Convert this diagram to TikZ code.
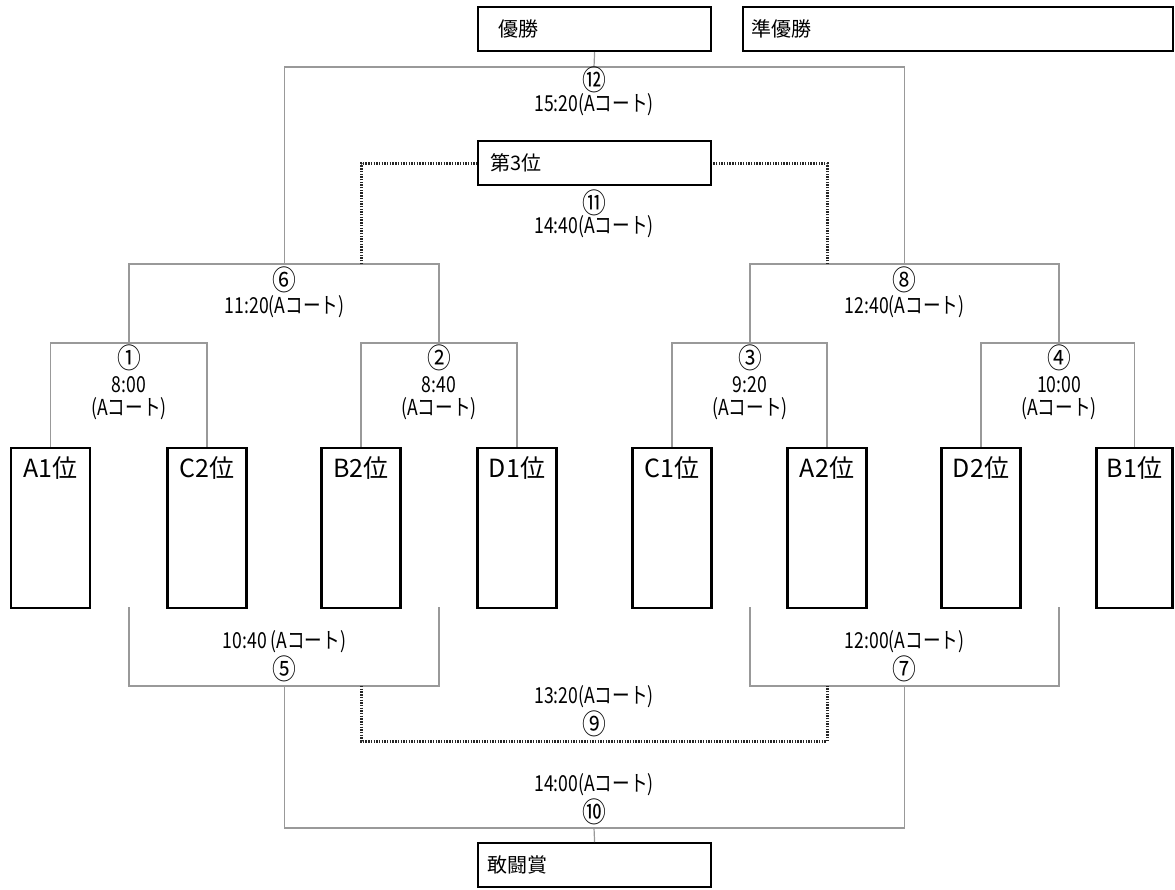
\documentclass[tikz,border=0pt]{standalone}
\usepackage{fontspec}
\setmainfont{Noto Sans CJK JP}
\newfontfamily\jpc[FakeStretch=0.8]{Noto Sans CJK JP}
\newfontfamily\jpn[FakeStretch=0.85]{Noto Sans CJK JP}
\usetikzlibrary{calc}
\begin{document}
\begin{tikzpicture}[x=1pt,y=-1pt,
  gl/.style={draw=black!40, line width=1.2pt},
  dotl/.style={draw=black!85, line width=3pt, dash pattern=on 1.4pt off 1.3pt},
  titlebox/.style={draw, line width=2.2pt, minimum height=44pt, align=left, anchor=north west, inner ysep=0pt, font=\fontsize{20}{24}\selectfont},
  team/.style={draw, line width=2.2pt, minimum width=79pt, minimum height=160pt, inner sep=0pt, anchor=north},
  teamlbl/.style={font=\fontsize{25}{28}\selectfont, inner sep=0pt},
  num/.style={font=\jpn\fontsize{28}{30}\selectfont, inner sep=0pt},
  tlbl/.style={font=\jpc\fontsize{22}{24}\selectfont, inner sep=0pt},
]
\fill[white] (0,0) rectangle (1175,889);
\useasboundingbox (0,0) rectangle (1175,889);

% title boxes
\node[titlebox, text width=193pt, inner xsep=20pt] (win) at (477,6) {優勝};
\node[titlebox, text width=414pt, inner xsep=8pt] (runner) at (742,6) {準優勝};
\node[titlebox, text width=209pt, inner xsep=12pt] (third) at (477,140) {第3位};
\node[titlebox, text width=215pt, inner xsep=9pt] (fight) at (477,842) {敢闘賞};

% team boxes
\node[team] (a1) at (50.5,447) {};
\node[team] (c2) at (207,447) {};
\node[team] (b2) at (361,447) {};
\node[team] (d1) at (517,447) {};
\node[team] (c1) at (672,447) {};
\node[team] (a2) at (827,447) {};
\node[team] (d2) at (981,447) {};
\node[team, minimum width=76pt] (b1) at (1134.5,447) {};
\foreach \n/\t in {a1/A1位, c2/C2位, b2/B2位, d1/D1位, c1/C1位, a2/A2位, d2/D2位, b1/B1位}
  \node[teamlbl] (\n-l) at ([yshift=-21pt]\n.north) {\t};

% junction coordinates
\coordinate (m1) at (129,343);
\coordinate (m2) at (439,343);
\coordinate (m3) at (750,343);
\coordinate (m4) at (1059,343);
\coordinate (m6) at (284.5,264);
\coordinate (m8) at (904.5,264);
\coordinate (m12) at (594,67);
\coordinate (d6) at (361,264);
\coordinate (d8) at (827,264);
\coordinate (l1) at (129,607);
\coordinate (l2) at (439,607);
\coordinate (l3) at (750,607);
\coordinate (l4) at (1059,607);
\coordinate (m5) at (284.5,686);
\coordinate (m7) at (904.5,686);
\coordinate (e5) at (361,686);
\coordinate (e7) at (827,686);
\coordinate (m9) at (594,741);
\coordinate (m10) at (594,828);

% upper bracket
\draw[gl] (a1.north) |- (m1) -| (c2.north);
\draw[gl] (b2.north) |- (m2) -| (d1.north);
\draw[gl] (c1.north) |- (m3) -| (a2.north);
\draw[gl] (d2.north) |- (m4) -| (b1.north);
\draw[gl] (m1) |- (m6) -| (m2);
\draw[gl] (m3) |- (m8) -| (m4);
\draw[gl] (m6) |- (m12) -| (m8);
\draw[gl] (win.south) -- (m12);
\draw[dotl] (d6) |- (third.west);
\draw[dotl] (d8) |- (third.east);

% lower bracket
\draw[gl] (l1) |- (m5) -| (l2);
\draw[gl] (l3) |- (m7) -| (l4);
\draw[dotl] (e5) |- (m9) -| (e7);
\draw[gl] (m5) |- (m10) -| (m7);
\draw[gl] (m10) -- (fight.north);

% labels
\node[num] (n12) at (594,80) {⑫};
\node[tlbl] (t12) at (594,105) {15:20(Aコート)};
\node[num] (n11) at (594,203) {⑪};
\node[tlbl] (t11) at (594,227) {14:40(Aコート)};
\node[num] (n6) at (284.5,280) {⑥};
\node[tlbl] (t6) at (284.5,307) {11:20(Aコート)};
\node[num] (n8) at (904.5,280) {⑧};
\node[tlbl] (t8) at (904.5,307) {12:40(Aコート)};
\foreach \c/\x/\t in {1/129/8:00, 2/439/8:40, 3/750/9:20, 4/1059/10:00} {
  \node[num] (n\c) at (\x,358) {\ifcase\c\or ①\or ②\or ③\or ④\fi};
  \node[tlbl] (t\c) at (\x,385) {\t};
  \node[tlbl] (u\c) at (\x,409) {(Aコート)};
}
\node[tlbl] (t5) at (284.5,642) {10:40 (Aコート)};
\node[num] (n5) at (284.5,669) {⑤};
\node[tlbl] (t7) at (904.5,642) {12:00(Aコート)};
\node[num] (n7) at (904.5,669) {⑦};
\node[tlbl] (t9) at (594,697) {13:20(Aコート)};
\node[num] (n9) at (594,724) {⑨};
\node[tlbl] (t10) at (594,785) {14:00(Aコート)};
\node[num] (n10) at (594,812) {⑩};
\end{tikzpicture}
\end{document}
